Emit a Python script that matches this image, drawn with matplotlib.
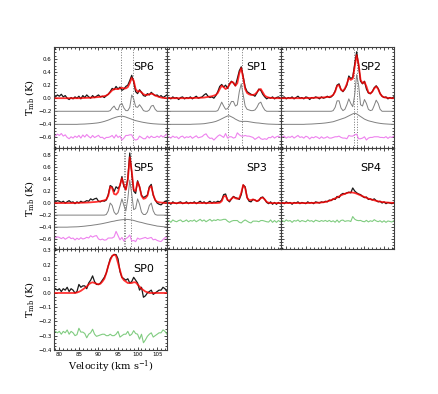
import numpy as np
import matplotlib
matplotlib.use('Agg')
import matplotlib.pyplot as plt
from matplotlib.ticker import MultipleLocator, AutoMinorLocator

# Velocity channels (km/s) shared by every spectrum.
velocity = np.arange(79.0, 108.0, 0.5)

# SP6: observed spectrum, total fit, narrow and broad components.
sp6_obs = [0.02, 0.05, 0.03, 0.06, 0.02, 0.04, 0.00, -0.02, 0.01, -0.01,
           0.02, 0.00, 0.03, -0.01, 0.04, 0.01, 0.05, 0.02, 0.00, 0.04,
           0.01, 0.03, 0.05, 0.02, 0.03, 0.01, 0.04, 0.06, 0.10, 0.15,
           0.13, 0.18, 0.14, 0.17, 0.12, 0.14, 0.18, 0.20, 0.27, 0.35,
           0.25, 0.10, 0.07, 0.13, 0.09, 0.04, 0.03, 0.07, 0.05, 0.09,
           0.06, 0.04, 0.05, 0.02, 0.04, 0.01, 0.03, 0.05]
sp6_fit = [0, 0, 0, 0, 0, 0, 0, 0, 0, 0,
           0, 0, 0, 0, 0.003, 0.004, 0.005, 0.006, 0.008, 0.01,
           0.012, 0.015, 0.018, 0.022, 0.027, 0.033, 0.04, 0.06, 0.09, 0.12,
           0.14, 0.14, 0.14, 0.15, 0.16, 0.15, 0.15, 0.17, 0.23, 0.31,
           0.27, 0.14, 0.10, 0.11, 0.09, 0.06, 0.05, 0.05, 0.06, 0.07,
           0.06, 0.04, 0.03, 0.02, 0.01, 0.005, 0.002, 0]
sp6_narrow = [0, 0, 0, 0, 0, 0, 0, 0, 0, 0,
              0, 0, 0, 0, 0, 0, 0, 0, 0, 0,
              0, 0, 0, 0, 0, 0, 0, 0, 0.01, 0.05,
              0.08, 0.03, 0.02, 0.10, 0.12, 0.05, 0.01, 0.01, 0.06, 0.25,
              0.19, 0.07, 0.06, 0.10, 0.06, 0.01, 0, 0, 0.02, 0.08,
              0.09, 0.03, 0, 0, 0, 0, 0, 0]
sp6_broad = [0, 0, 0, 0, 0, 0, 0, 0, 0, 0,
             0, 0, 0.002, 0.003, 0.004, 0.005, 0.007, 0.009, 0.011, 0.014,
             0.017, 0.02, 0.024, 0.03, 0.037, 0.045, 0.055, 0.065, 0.077, 0.09,
             0.10, 0.11, 0.118, 0.123, 0.125, 0.12, 0.112, 0.10, 0.09, 0.078,
             0.066, 0.057, 0.05, 0.043, 0.036, 0.03, 0.025, 0.02, 0.016, 0.012,
             0.009, 0.007, 0.005, 0.003, 0.002, 0.001, 0, 0]

# SP1
sp1_obs = [0.01, -0.01, 0.02, 0.00, 0.01, -0.02, 0.01, 0.02, -0.01, 0.01,
           0.00, 0.02, -0.01, 0.01, 0.03, 0.00, 0.01, 0.02, 0.05, 0.07,
           0.03, 0.01, 0.02, 0.00, 0.04, 0.10, 0.18, 0.21, 0.17, 0.20,
           0.15, 0.22, 0.26, 0.23, 0.19, 0.30, 0.42, 0.48, 0.33, 0.17,
           0.10, 0.08, 0.06, 0.05, 0.03, 0.08, 0.14, 0.12, 0.06, 0.02,
           -0.01, 0.01, 0.00, 0.02, -0.01, 0.01, 0.02, 0.00]
sp1_fit = [0, 0, 0, 0, 0, 0, 0, 0, 0, 0,
           0, 0.002, 0.003, 0.004, 0.005, 0.006, 0.007, 0.008, 0.01, 0.015,
           0.02, 0.025, 0.03, 0.04, 0.05, 0.08, 0.14, 0.19, 0.17, 0.14,
           0.16, 0.21, 0.25, 0.24, 0.19, 0.23, 0.38, 0.46, 0.31, 0.14,
           0.08, 0.06, 0.05, 0.05, 0.06, 0.09, 0.13, 0.14, 0.09, 0.04,
           0.02, 0.01, 0.005, 0.002, 0, 0, 0, 0]
sp1_narrow = [0, 0, 0, 0, 0, 0, 0, 0, 0, 0,
              0, 0, 0, 0, 0, 0, 0, 0, 0, 0,
              0, 0, 0, 0, 0, 0.01, 0.07, 0.14, 0.08, 0.03,
              0.04, 0.09, 0.15, 0.15, 0.08, 0.10, 0.30, 0.42, 0.25, 0.08,
              0.03, 0.02, 0.01, 0.01, 0.02, 0.06, 0.12, 0.14, 0.07, 0.02,
              0, 0, 0, 0, 0, 0, 0, 0]
sp1_broad = [0, 0, 0, 0, 0, 0, 0, 0, 0, 0,
             0, 0, 0.002, 0.003, 0.004, 0.005, 0.006, 0.008, 0.01, 0.015,
             0.02, 0.025, 0.03, 0.037, 0.045, 0.057, 0.07, 0.085, 0.10, 0.115,
             0.128, 0.13, 0.115, 0.10, 0.08, 0.065, 0.05, 0.045, 0.045, 0.046,
             0.045, 0.04, 0.035, 0.03, 0.025, 0.022, 0.02, 0.016, 0.012, 0.009,
             0.006, 0.004, 0.003, 0.002, 0.001, 0, 0, 0]

# SP2
sp2_obs = [0.01, 0.02, -0.01, 0.01, 0.00, 0.02, -0.01, 0.01, 0.03, 0.00,
           0.01, -0.01, 0.02, 0.01, -0.02, 0.01, 0.00, 0.02, 0.01, -0.01,
           0.02, 0.00, 0.01, 0.03, 0.01, 0.02, 0.05, 0.11, 0.20, 0.22,
           0.13, 0.10, 0.14, 0.20, 0.34, 0.30, 0.32, 0.52, 0.71, 0.50,
           0.26, 0.22, 0.26, 0.14, 0.08, 0.07, 0.10, 0.16, 0.19, 0.15,
           0.07, 0.03, 0.01, 0.02, -0.01, 0.01, 0.00, 0.02]
sp2_fit = [0, 0, 0, 0, 0, 0, 0, 0, 0, 0,
           0, 0.001, 0.002, 0.003, 0.004, 0.005, 0.006, 0.007, 0.008, 0.009,
           0.01, 0.012, 0.015, 0.018, 0.02, 0.03, 0.05, 0.10, 0.19, 0.20,
           0.13, 0.11, 0.15, 0.22, 0.31, 0.28, 0.30, 0.48, 0.66, 0.52,
           0.28, 0.23, 0.25, 0.18, 0.09, 0.07, 0.10, 0.15, 0.18, 0.14,
           0.07, 0.03, 0.015, 0.008, 0.005, 0.002, 0, 0]
sp2_narrow = [0, 0, 0, 0, 0, 0, 0, 0, 0, 0,
              0, 0, 0, 0, 0, 0, 0, 0, 0, 0,
              0, 0, 0, 0, 0, 0, 0.01, 0.06, 0.16, 0.16,
              0.05, 0.01, 0.03, 0.10, 0.19, 0.12, 0.07, 0.25, 0.56, 0.40,
              0.10, 0.08, 0.18, 0.12, 0.03, 0.01, 0.02, 0.09, 0.17, 0.12,
              0.03, 0, 0, 0, 0, 0, 0, 0]
sp2_broad = [0, 0, 0, 0, 0, 0, 0, 0, 0, 0,
             0, 0, 0.002, 0.003, 0.004, 0.005, 0.007, 0.009, 0.011, 0.013,
             0.015, 0.018, 0.021, 0.025, 0.03, 0.035, 0.04, 0.05, 0.06, 0.07,
             0.08, 0.09, 0.10, 0.115, 0.13, 0.145, 0.16, 0.17, 0.16, 0.14,
             0.12, 0.10, 0.08, 0.067, 0.055, 0.047, 0.04, 0.032, 0.025, 0.02,
             0.015, 0.011, 0.008, 0.006, 0.004, 0.002, 0.001, 0]

# SP5
sp5_obs = [0.02, 0.04, 0.03, 0.01, 0.03, 0.00, 0.02, 0.04, 0.01, 0.02,
           -0.01, 0.02, 0.00, 0.03, 0.01, 0.02, 0.04, 0.03, 0.07, 0.05,
           0.07, 0.08, 0.03, 0.02, 0.04, 0.03, 0.05, 0.14, 0.29, 0.27,
           0.19, 0.27, 0.24, 0.29, 0.44, 0.27, 0.23, 0.41, 0.83, 0.50,
           0.20, 0.16, 0.37, 0.27, 0.13, 0.09, 0.11, 0.13, 0.27, 0.31,
           0.13, 0.05, 0.00, -0.02, -0.03, 0.00, 0.03, 0.02]
sp5_fit = [0, 0, 0, 0, 0, 0, 0, 0, 0, 0,
           0.002, 0.003, 0.004, 0.005, 0.006, 0.007, 0.008, 0.01, 0.012, 0.015,
           0.017, 0.02, 0.025, 0.03, 0.037, 0.045, 0.06, 0.12, 0.27, 0.25,
           0.15, 0.14, 0.18, 0.30, 0.41, 0.30, 0.22, 0.38, 0.76, 0.53,
           0.22, 0.20, 0.35, 0.27, 0.12, 0.07, 0.08, 0.12, 0.25, 0.28,
           0.14, 0.05, 0.02, 0.012, 0.008, 0.005, 0.003, 0.002]
sp5_narrow = [0, 0, 0, 0, 0, 0, 0, 0, 0, 0,
              0, 0, 0, 0, 0, 0, 0, 0, 0, 0,
              0, 0, 0, 0, 0, 0, 0.01, 0.07, 0.20, 0.16,
              0.05, 0.01, 0.04, 0.15, 0.27, 0.16, 0.07, 0.27, 0.58, 0.35,
              0.09, 0.11, 0.27, 0.18, 0.05, 0.01, 0.01, 0.05, 0.16, 0.20,
              0.07, 0.01, 0, 0, 0, 0, 0, 0]
sp5_broad = [0, 0, 0, 0, 0, 0, 0, 0.002, 0.003, 0.004,
             0.005, 0.006, 0.008, 0.011, 0.014, 0.017, 0.021, 0.025, 0.028, 0.033,
             0.038, 0.042, 0.048, 0.053, 0.059, 0.066, 0.073, 0.08, 0.088, 0.095,
             0.10, 0.108, 0.114, 0.119, 0.123, 0.126, 0.128, 0.128, 0.124, 0.119,
             0.112, 0.102, 0.092, 0.084, 0.078, 0.069, 0.06, 0.052, 0.046, 0.039,
             0.032, 0.026, 0.018, 0.015, 0.011, 0.008, 0.005, 0.004]

# SP3 (single component)
sp3_obs = [0.01, -0.02, 0.02, 0.00, -0.01, 0.01, 0.02, -0.01, 0.00, 0.02,
           -0.01, 0.01, 0.00, 0.02, -0.01, 0.01, 0.03, 0.00, 0.02, -0.01,
           0.01, 0.03, 0.00, 0.02, 0.01, 0.03, 0.02, 0.05, 0.14, 0.15,
           0.05, 0.02, 0.07, 0.11, 0.09, 0.08, 0.06, 0.14, 0.30, 0.27,
           0.09, 0.03, 0.02, 0.06, 0.05, 0.03, 0.04, 0.09, 0.10, 0.06,
           0.01, -0.01, 0.02, -0.02, 0.01, -0.02, 0.01, -0.01]
sp3_fit = [0, 0, 0, 0, 0, 0, 0, 0, 0, 0,
           0, 0, 0, 0, 0, 0, 0, 0, 0, 0,
           0, 0, 0, 0, 0, 0.002, 0.005, 0.03, 0.11, 0.12,
           0.05, 0.04, 0.07, 0.10, 0.08, 0.07, 0.08, 0.17, 0.30, 0.25,
           0.09, 0.05, 0.05, 0.06, 0.05, 0.03, 0.05, 0.08, 0.09, 0.06,
           0.02, 0.005, 0, 0, 0, 0, 0, 0]

# SP4 (single component)
sp4_obs = [0.01, -0.01, 0.02, 0.00, 0.01, -0.02, 0.01, 0.00, 0.02, -0.01,
           0.01, 0.00, -0.01, 0.02, 0.00, 0.01, -0.01, 0.02, 0.01, 0.00,
           0.02, 0.01, 0.03, 0.02, 0.05, 0.04, 0.07, 0.06, 0.11, 0.09,
           0.14, 0.16, 0.15, 0.17, 0.18, 0.17, 0.25, 0.20, 0.17, 0.15,
           0.14, 0.11, 0.09, 0.10, 0.06, 0.07, 0.05, 0.07, 0.04, 0.02,
           0.03, 0.00, 0.02, -0.01, 0.01, 0.00, -0.01, 0.01]
sp4_fit = [0, 0, 0, 0, 0, 0, 0, 0, 0, 0,
           0, 0, 0, 0, 0.001, 0.002, 0.003, 0.004, 0.005, 0.007,
           0.01, 0.013, 0.018, 0.027, 0.037, 0.05, 0.064, 0.078, 0.092, 0.11,
           0.128, 0.142, 0.155, 0.165, 0.174, 0.176, 0.174, 0.167, 0.156, 0.142,
           0.128, 0.114, 0.10, 0.087, 0.073, 0.064, 0.055, 0.046, 0.037, 0.029,
           0.023, 0.018, 0.014, 0.01, 0.007, 0.005, 0.004, 0.003]

# SP0 (single component)
sp0_obs = [0.03, 0.02, 0.03, 0.01, 0.03, 0.02, 0.04, 0.01, 0.03, 0.02,
           0.00, 0.01, 0.06, 0.04, 0.05, 0.05, 0.03, 0.07, 0.09, 0.12,
           0.08, 0.06, 0.06, 0.07, 0.09, 0.11, 0.14, 0.19, 0.24, 0.26,
           0.27, 0.27, 0.24, 0.15, 0.11, 0.10, 0.09, 0.10, 0.07, 0.08,
           0.11, 0.09, 0.07, 0.02, 0.04, -0.03, -0.02, 0.00, 0.01, 0.02,
           -0.01, 0.00, 0.01, 0.02, 0.02, 0.04, 0.03, 0.01]
sp0_fit = [0, 0, 0, 0, 0, 0, 0, 0, 0, 0,
           0, 0.003, 0.008, 0.015, 0.025, 0.035, 0.045, 0.06, 0.07, 0.075,
           0.07, 0.065, 0.06, 0.065, 0.08, 0.10, 0.14, 0.19, 0.23, 0.26,
           0.27, 0.26, 0.21, 0.16, 0.11, 0.09, 0.08, 0.07, 0.07, 0.07,
           0.075, 0.075, 0.06, 0.045, 0.03, 0.02, 0.01, 0.005, 0, 0,
           0, 0, 0, 0, 0, 0, 0, 0]

# Fitted centroid velocities marked by dotted lines.
sp6_vlines = [95.8, 98.8]
sp1_vlines = [94.2, 97.6]
sp2_vlines = [97.4, 98.1]
sp5_vlines = [96.4, 96.8, 98.3]

plt.rcParams['mathtext.fontset'] = 'dejavuserif'


def plot_panel(ax, name, obs, fit, narrow=None, broad=None, vlines=()):
    """
    Draw one spectrum with its fit, the components (offset below) and
    the residual.
    """
    obs = np.array(obs)
    fit = np.array(fit)
    two_comp = narrow is not None

    for v in vlines:
        ax.axvline(v, color='0.45', ls=':', lw=0.7, zorder=1)

    ax.plot(velocity, obs, color='0.1', lw=0.9, zorder=3)
    ax.plot(velocity, fit, color='red', lw=1.3, alpha=0.8, zorder=4)

    if two_comp:
        ax.plot(velocity, np.array(narrow) - 0.2, color='0.5', lw=0.7)
        ax.plot(velocity, np.array(broad) - 0.4, color='0.5', lw=0.7)
        ax.plot(velocity, obs - fit - 0.6, color='violet', lw=0.8)
    else:
        ax.plot(velocity, obs - fit - 0.3, color='#80cc80', lw=0.8)

    ax.text(0.79, 0.80, name, transform=ax.transAxes, fontsize=8,
            ha='center', va='center')


def style_axis(ax, ylim, ystep, show_x, show_y):
    ax.set_xlim(78.6, 107.6)
    ax.set_ylim(*ylim)
    ax.xaxis.set_major_locator(MultipleLocator(5))
    ax.xaxis.set_minor_locator(AutoMinorLocator(5))
    ax.yaxis.set_major_locator(MultipleLocator(ystep))
    ax.yaxis.set_minor_locator(AutoMinorLocator(4))
    ax.tick_params(which='both', direction='in', top=True, right=True,
                   labelsize=4, width=0.5, pad=1.5,
                   labelbottom=show_x, labelleft=show_y)
    ax.tick_params(which='major', length=2.5)
    ax.tick_params(which='minor', length=1.3)
    for s in ax.spines.values():
        s.set_linewidth(0.8)
        s.set_color('0.25')
    if show_y:
        ax.set_ylabel(r'T$_{\rm mb}$ (K)', fontsize=7, family='serif',
                      labelpad=2)


def main():
    fig = plt.figure(figsize=(4.38, 3.94), dpi=100)
    gs = fig.add_gridspec(3, 3, left=0.123, right=0.9, top=0.881,
                          bottom=0.112, hspace=0, wspace=0)

    row_lims = [(-0.76, 0.785), (-0.76, 0.915), (-0.40, 0.31)]
    row_steps = [0.2, 0.2, 0.1]

    panels = [
        (0, 0, 'SP6', sp6_obs, sp6_fit, sp6_narrow, sp6_broad, sp6_vlines),
        (0, 1, 'SP1', sp1_obs, sp1_fit, sp1_narrow, sp1_broad, sp1_vlines),
        (0, 2, 'SP2', sp2_obs, sp2_fit, sp2_narrow, sp2_broad, sp2_vlines),
        (1, 0, 'SP5', sp5_obs, sp5_fit, sp5_narrow, sp5_broad, sp5_vlines),
        (1, 1, 'SP3', sp3_obs, sp3_fit, None, None, ()),
        (1, 2, 'SP4', sp4_obs, sp4_fit, None, None, ()),
        (2, 0, 'SP0', sp0_obs, sp0_fit, None, None, ()),
    ]

    for r, c, name, obs, fit, narrow, broad, vl in panels:
        ax = fig.add_subplot(gs[r, c])
        plot_panel(ax, name, obs, fit, narrow, broad, vl)
        style_axis(ax, row_lims[r], row_steps[r], show_x=(r == 2),
                   show_y=(c == 0))
        if r == 2:
            ax.set_xlabel(r'Velocity (km s$^{-1}$)', fontsize=7,
                          family='serif', labelpad=1)

    fig.savefig('out.png', dpi=100)


if __name__ == '__main__':
    main()
